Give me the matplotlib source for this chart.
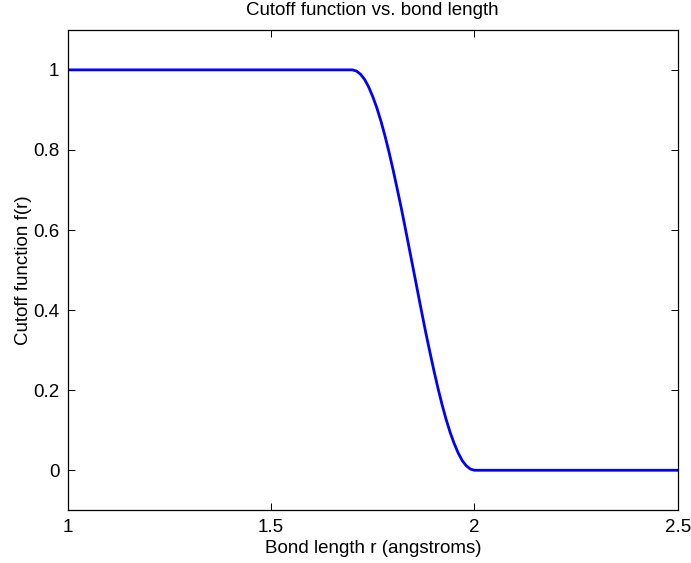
import matplotlib
matplotlib.use("Agg")
import matplotlib.pyplot as plt

plt.rcParams['font.family'] = ['Liberation Sans', 'DejaVu Sans']

# Bond length r (angstroms) and cutoff function f(r)
r = [1.00, 1.70, 1.71, 1.72, 1.73, 1.74, 1.75, 1.76, 1.77, 1.78, 1.79, 1.80,
     1.81, 1.82, 1.83, 1.84, 1.85, 1.86, 1.87, 1.88, 1.89, 1.90, 1.91, 1.92,
     1.93, 1.94, 1.95, 1.96, 1.97, 1.98, 1.99, 2.00, 2.50]
f = [1.000, 1.000, 0.997, 0.989, 0.976, 0.957, 0.933, 0.905, 0.872, 0.835,
     0.794, 0.750, 0.703, 0.655, 0.604, 0.552, 0.500, 0.448, 0.396, 0.345,
     0.297, 0.250, 0.206, 0.165, 0.128, 0.095, 0.067, 0.043, 0.024, 0.011,
     0.003, 0.000, 0.000]

xticks = [1, 1.5, 2, 2.5]
xticklabels = ['1', '1.5', '2', '2.5']
yticks = [0, 0.2, 0.4, 0.6, 0.8, 1]
yticklabels = ['0', '0.2', '0.4', '0.6', '0.8', '1']

fig = plt.figure(figsize=(6.91, 5.63), dpi=100)
ax = fig.add_axes([0.098, 0.0936, 0.883, 0.8534])
ax.plot(r, f, color='#0000ff', linewidth=2.0)
ax.set_xlim(1, 2.5)
ax.set_ylim(-0.1, 1.1)
ax.set_xticks(xticks)
ax.set_xticklabels(xticklabels)
ax.set_yticks(yticks)
ax.set_yticklabels(yticklabels)
ax.tick_params(direction='in', top=True, right=True, length=5, width=0.7,
               labelsize=13.5, pad=6)
for s in ax.spines.values():
    s.set_linewidth(0.9)
ax.set_xlabel('Bond length r (angstroms)', fontsize=13.5, labelpad=3)
ax.set_ylabel('Cutoff function f(r)', fontsize=13.5, labelpad=1)
ax.set_title('Cutoff function vs. bond length', fontsize=13.5, pad=11)

fig.savefig('out.png', dpi=100)
